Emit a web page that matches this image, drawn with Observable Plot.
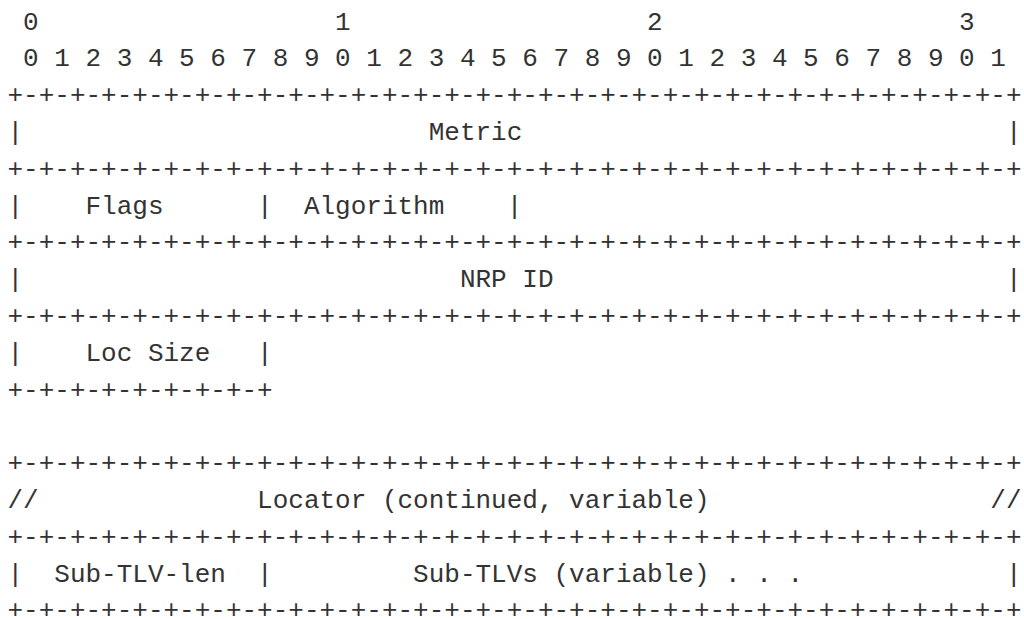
<!DOCTYPE html>
<html>
<head>
<meta charset="utf-8">
<script src="https://cdn.jsdelivr.net/npm/d3@7"></script>
<script src="https://cdn.jsdelivr.net/npm/@observablehq/plot@0.6"></script>
<style>
  html, body { margin: 0; padding: 0; background: #fff; }
  svg { display: block; }
</style>
</head>
<body>
<div id="chart"></div>
<script>
// ---- data: packet diagram content (row index, starting column, text) ----
const fullBorder = "+-".repeat(32) + "+";
const shortBorder = "+-".repeat(8) + "+";

const bitTens = [
  {row: 0, col: 1, text: "0"},
  {row: 0, col: 21, text: "1"},
  {row: 0, col: 41, text: "2"},
  {row: 0, col: 61, text: "3"}
];
const bitUnits = [
  {row: 1, col: 1, text: "0 1 2 3 4 5 6 7 8 9 0 1 2 3 4 5 6 7 8 9 0 1 2 3 4 5 6 7 8 9 0 1"}
];
const borderRows = [2, 4, 6, 8, 12, 14, 16];
const fieldSegments = [
  {row: 3, col: 0, text: "|"}, {row: 3, col: 27, text: "Metric"}, {row: 3, col: 64, text: "|"},
  {row: 5, col: 0, text: "|"}, {row: 5, col: 5, text: "Flags"}, {row: 5, col: 16, text: "|"},
  {row: 5, col: 19, text: "Algorithm"}, {row: 5, col: 32, text: "|"},
  {row: 7, col: 0, text: "|"}, {row: 7, col: 29, text: "NRP ID"}, {row: 7, col: 64, text: "|"},
  {row: 9, col: 0, text: "|"}, {row: 9, col: 5, text: "Loc Size"}, {row: 9, col: 16, text: "|"},
  {row: 10, col: 0, text: shortBorder},
  {row: 13, col: 0, text: "//"}, {row: 13, col: 16, text: "Locator (continued, variable)"}, {row: 13, col: 63, text: "//"},
  {row: 15, col: 0, text: "|"}, {row: 15, col: 3, text: "Sub-TLV-len"}, {row: 15, col: 16, text: "|"},
  {row: 15, col: 26, text: "Sub-TLVs (variable) . . ."}, {row: 15, col: 64, text: "|"}
];

// ---- build character table ----
const segments = [
  ...bitTens,
  ...bitUnits,
  ...borderRows.map(r => ({row: r, col: 0, text: fullBorder})),
  ...fieldSegments
];
const chars = [];
for (const s of segments) {
  [...s.text].forEach((ch, i) => {
    if (ch !== " ") chars.push({row: s.row, col: s.col + i + 0.5, ch});
  });
}

const cellW = 15.6, rowH = 36.8, x0 = 7, y0 = 29;
const nCols = 65, nRows = 16;

const chart = Plot.plot({
  width: 1024,
  height: 619,
  margin: 0,
  style: {background: "#ffffff"},
  x: {type: "linear", domain: [0, nCols], range: [x0, x0 + cellW * nCols], axis: null},
  y: {type: "linear", domain: [0, nRows], range: [y0, y0 + rowH * nRows], axis: null},
  marks: [
    Plot.text(chars, {
      x: "col",
      y: "row",
      text: "ch",
      textAnchor: "middle",
      lineAnchor: "bottom",
      fontFamily: "Liberation Mono",
      fontSize: 26,
      fill: "#333333"
    })
  ]
});
document.getElementById("chart").appendChild(chart);
</script>
</body>
</html>
